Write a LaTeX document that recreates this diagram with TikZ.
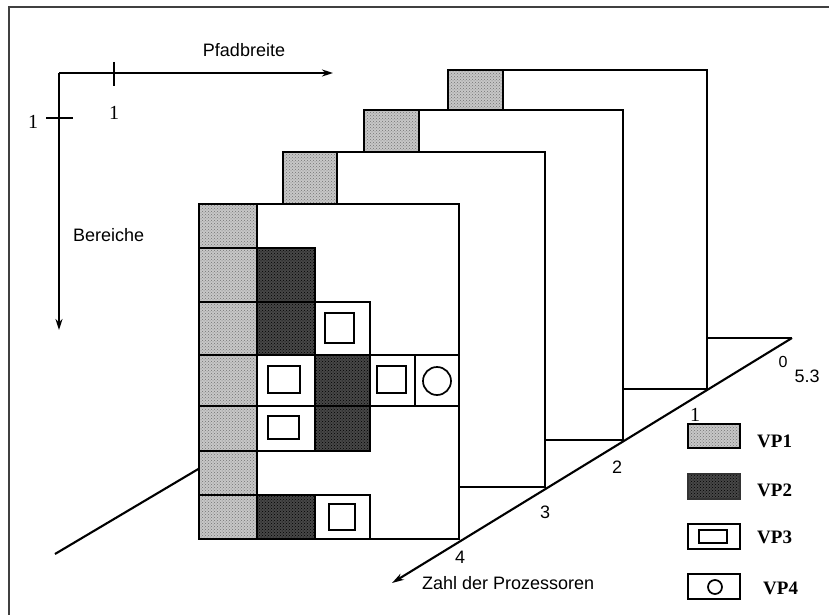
\documentclass[tikz,border=0pt]{standalone}
\usepackage{fontspec}
\setmainfont{Liberation Serif}
\setsansfont{Liberation Sans}
\usetikzlibrary{patterns,arrows.meta}
\begin{document}
\begin{tikzpicture}[x=1pt,y=-1pt,
  line join=miter,
  border/.style={draw=black!75, line width=1.6pt},
  axis/.style={draw=black, line width=2.1pt},
  frame/.style={draw=black, line width=2.1pt},
  cellbox/.style={draw=black, line width=1.8pt},
  vpone/.style={cellbox, preaction={fill=black!22}, pattern=crosshatch dots, pattern color=black!55},
  vptwo/.style={cellbox, preaction={fill=black!72}, pattern=crosshatch dots, pattern color=black},
  innerbox/.style={draw=black, line width=1.7pt},
  sanslbl/.style={font=\sffamily\fontsize{18}{20}\selectfont, inner sep=0pt},
  seriflbl/.style={font=\rmfamily\fontsize{20}{22}\selectfont, inner sep=0pt},
  tip/.style={-{Stealth[length=11pt,width=7pt]}}]
\useasboundingbox (0,0) rectangle (829,615);

% page border (left and top)
\draw[border] (9,615) -- (9,7) -- (829,7);

% axes of a single plane
\coordinate (org) at (59,73);
\coordinate (xend) at (333,73);
\coordinate (yend) at (59,330);
\draw[axis,tip] (org) -- (xend);
\draw[axis,tip] (org) -- (yend);
\draw[axis] (114,62) -- (114,86);
\draw[axis] (46,118) -- (73,118);
\node[sanslbl] (pfad) at (244,50) {Pfadbreite};
\node[seriflbl] (xone) at (114,113) {1};
\node[seriflbl] (yone) at (33,122) {1};
\node[sanslbl, anchor=west] (ber) at (73,235) {Bereiche};

% left edge of the floor (disappears behind the planes)
\draw[axis] (55,554) -- (200,468);

% rear planes, back to front
\path[frame, fill=white] (448,70) rectangle (707,389);
\path[vpone] (448,70) rectangle (503,114);
\path[frame, fill=white] (364,110) rectangle (623,440);
\path[vpone] (364,110) rectangle (419,156);
\path[frame, fill=white] (283,152) rectangle (545,487);
\path[vpone] (283,152) rectangle (337,208);

% front plane
\path[fill=white] (199,204) rectangle (459,539);
\foreach \ya/\yb in {204/248, 248/302, 302/355, 355/406, 406/451, 451/495, 495/539}
  \path[vpone] (199,\ya) rectangle (257,\yb);
\path[vptwo] (257,248) rectangle (315,302);
\path[vptwo] (257,302) rectangle (315,355);
\path[cellbox] (315,302) rectangle (370,355);
\path[innerbox] (325,313) rectangle (354,343);
\path[cellbox] (257,355) rectangle (315,406);
\path[innerbox] (268,366) rectangle (300,393);
\path[vptwo] (315,355) rectangle (370,406);
\path[cellbox] (370,355) rectangle (415,406);
\path[innerbox] (377,366) rectangle (406,393);
\path[cellbox] (415,355) rectangle (459,406);
\draw[innerbox] (437,381) circle[radius=14pt];
\path[cellbox] (257,406) rectangle (315,451);
\path[innerbox] (268,416) rectangle (299,439);
\path[vptwo] (315,406) rectangle (370,451);
\path[vptwo] (257,495) rectangle (315,539);
\path[cellbox] (315,495) rectangle (370,539);
\path[innerbox] (329,504) rectangle (355,530);
\path[frame] (199,204) rectangle (459,539);

% floor: rear edge and processor axis
\coordinate (back) at (792,338);
\coordinate (ptip) at (392,583);
\draw[axis] (707,338) -- (back);
\draw[axis,-{Stealth[length=12pt,width=7pt]}] (back) -- (ptip);

\node[sanslbl, font=\sffamily\fontsize{16}{18}\selectfont] (nzero) at (783,362) {0};
\node[sanslbl] (nfive) at (807,376) {5.3};
\node[seriflbl] (none) at (695,415) {1};
\node[sanslbl] (ntwo) at (617,467) {2};
\node[sanslbl] (nthree) at (545,512) {3};
\node[sanslbl] (nfour) at (460,557) {4};
\node[sanslbl, anchor=west] (zahl) at (422,583) {Zahl der Prozessoren};

% legend
\path[vpone] (688,424) rectangle (740,448);
\path[vptwo, draw=black!80] (688,474) rectangle (740,499);
\path[cellbox] (688,524) rectangle (740,549);
\path[innerbox] (699,530) rectangle (727,543);
\path[cellbox] (688,574) rectangle (740,599);
\draw[innerbox] (715,587) circle[radius=7pt];
\node[seriflbl, font=\rmfamily\bfseries\fontsize{19}{22}\selectfont, anchor=west] (lone) at (757,441) {VP1};
\node[seriflbl, font=\rmfamily\bfseries\fontsize{19}{22}\selectfont, anchor=west] (ltwo) at (757,490) {VP2};
\node[seriflbl, font=\rmfamily\bfseries\fontsize{19}{22}\selectfont, anchor=west] (lthree) at (757,537) {VP3};
\node[seriflbl, font=\rmfamily\bfseries\fontsize{19}{22}\selectfont, anchor=west] (lfour) at (763,588) {VP4};
\end{tikzpicture}
\end{document}
